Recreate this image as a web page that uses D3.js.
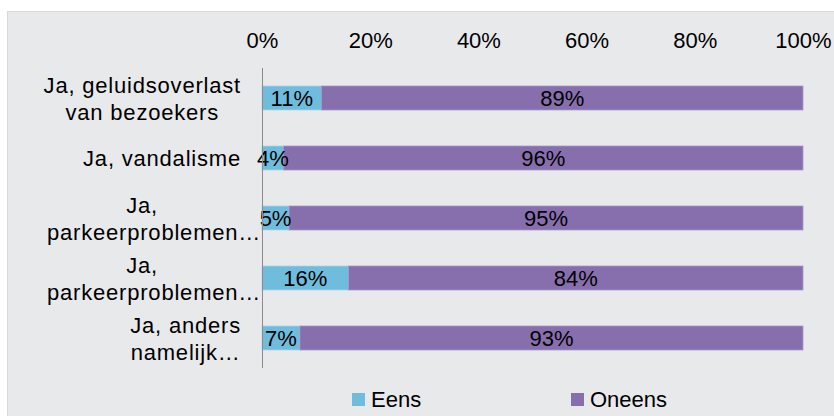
<!DOCTYPE html>
<html>
<head>
<meta charset="utf-8">
<script src="https://cdn.jsdelivr.net/npm/d3@7"></script>
<style>
  html, body { margin: 0; padding: 0; background: #fff; }
  svg text { font-family: "Liberation Sans", Arial, sans-serif; fill: #000; }
</style>
</head>
<body>
<svg id="chart" width="834" height="416"></svg>
<script>
// data
var categories = [
  ["Ja, geluidsoverlast", "van bezoekers"],
  ["Ja, vandalisme"],
  ["Ja,", "parkeerproblemen\u2026"],
  ["Ja,", "parkeerproblemen\u2026"],
  ["Ja, anders", "namelijk\u2026"]
];
var seriesNames = ["Eens", "Oneens"];
var eens = [11, 4, 5, 16, 7];
var oneens = [89, 96, 95, 84, 93];
var tickValues = [0, 20, 40, 60, 80, 100];

var colors = ["#70bcdc", "#876fae"];
var strokes = ["#a6d6ea", "#a796c6"];

var svg = d3.select("#chart");

// chart area background
svg.append("rect")
  .attr("x", 7.5).attr("y", 11.5)
  .attr("width", 830).attr("height", 410)
  .attr("fill", "#e8e9eb")
  .attr("stroke", "#d9d9d9");

var x = d3.scaleLinear().domain([0, 100]).range([262, 803]);
var y = d3.scaleBand().domain(d3.range(categories.length))
  .range([68, 368]).paddingInner(0.6).paddingOuter(0.3);

// top axis labels
var xAxis = d3.axisTop(x).tickValues(tickValues)
  .tickFormat(function (d) { return d + "%"; })
  .tickSize(0).tickPadding(0);
var gx = svg.append("g").attr("transform", "translate(0,48)").call(xAxis);
gx.select(".domain").remove();
gx.selectAll("text")
  .attr("y", 0).attr("dy", 0)
  .style("font-size", "22px")
  .style("font-family", "'Liberation Sans', Arial, sans-serif")
  .attr("fill", "#000");

// stacked bars
var rows = categories.map(function (c, i) {
  return [
    {s: 0, x0: 0, x1: eens[i], v: eens[i], i: i},
    {s: 1, x0: eens[i], x1: eens[i] + oneens[i], v: oneens[i], i: i}
  ];
});
var segs = [].concat.apply([], rows);

svg.append("g").selectAll("rect").data(segs).enter().append("rect")
  .attr("x", function (d) { return x(d.x0); })
  .attr("y", function (d) { return y(d.i); })
  .attr("width", function (d) { return x(d.x1) - x(d.x0); })
  .attr("height", y.bandwidth())
  .attr("fill", function (d) { return colors[d.s]; })
  .attr("stroke", function (d) { return strokes[d.s]; })
  .attr("stroke-width", 0.75);

svg.append("g").selectAll("text").data(segs).enter().append("text")
  .attr("x", function (d) { return x((d.x0 + d.x1) / 2); })
  .attr("y", function (d) { return y(d.i) + y.bandwidth() / 2 + 8; })
  .attr("text-anchor", "middle")
  .style("font-size", "22px")
  .text(function (d) { return d.v + "%"; });

// vertical category axis line
svg.append("line")
  .attr("x1", x(0) + 0.5).attr("x2", x(0) + 0.5)
  .attr("y1", 68).attr("y2", 368)
  .attr("stroke", "#8c8c8c").attr("stroke-width", 1);

// category labels (multi-line, centred block, right edge near 241)
var lineH = 27, rightEdge = 241, boxW = 198;
var gl = svg.append("g");
categories.forEach(function (lines, i) {
  var cy = y(i) + y.bandwidth() / 2;
  var t = gl.append("g");
  var texts = lines.map(function (l, k) {
    return t.append("text")
      .attr("y", cy + (k - (lines.length - 1) / 2) * lineH + 8)
      .style("font-size", "22px")
      .style("letter-spacing", "0.8px")
      .text(l);
  });
  var widths = texts.map(function (tx) { return tx.node().getComputedTextLength(); });
  var maxW = Math.min(d3.max(widths), boxW);
  var cx = rightEdge - maxW / 2;
  texts.forEach(function (tx, k) {
    if (widths[k] > boxW) {
      tx.attr("x", rightEdge - boxW + 4).attr("text-anchor", "start");
    } else {
      tx.attr("x", cx).attr("text-anchor", "middle");
    }
  });
});

// legend
var legendX = [352, 571];
var lg = svg.append("g").selectAll("g").data(seriesNames).enter().append("g")
  .attr("transform", function (d, i) { return "translate(" + legendX[i] + ",393)"; });
lg.append("rect").attr("width", 13).attr("height", 13)
  .attr("fill", function (d, i) { return colors[i]; });
lg.append("text").attr("x", 19).attr("y", 14)
  .style("font-size", "22px")
  .text(function (d) { return d; });
</script>
</body>
</html>
